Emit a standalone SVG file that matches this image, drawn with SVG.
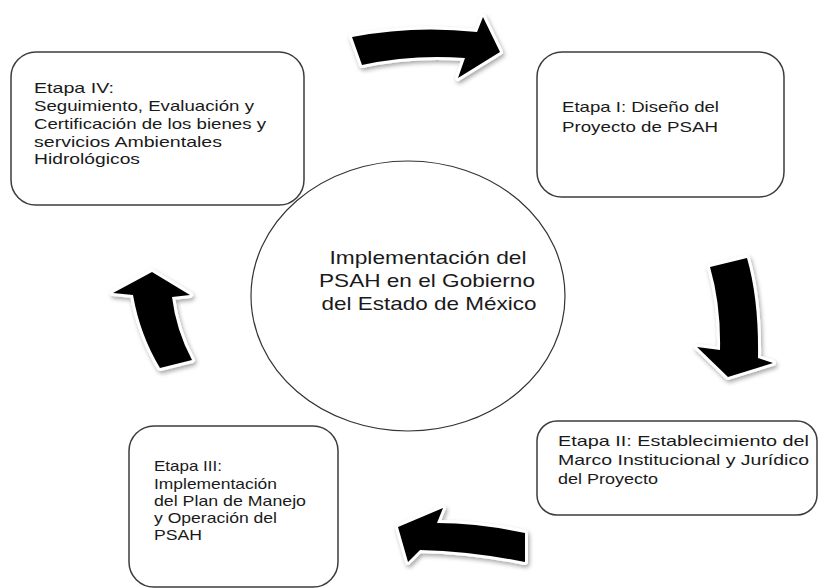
<svg xmlns="http://www.w3.org/2000/svg" width="819" height="588" viewBox="0 0 819 588">
<defs>
<filter id="sh" x="-20%" y="-20%" width="150%" height="150%">
<feDropShadow dx="1.5" dy="2.5" stdDeviation="2" flood-color="#000" flood-opacity="0.35"/>
</filter>
<style>
.box{fill:#fff;stroke:#3c3c3c;stroke-width:1.5}
.ell{fill:#fff;stroke:#333;stroke-width:1.2}
.t{font-family:"Liberation Sans",Arial,sans-serif;font-size:15px;fill:#1a1a1a}
.c{font-family:"Liberation Sans",Arial,sans-serif;font-size:19px;fill:#1a1a1a;text-anchor:middle}
.arr{fill:#000;stroke:#fff;stroke-width:6;stroke-linejoin:round;paint-order:stroke;filter:url(#sh)}
</style>
</defs>
<rect width="819" height="588" fill="#fff"/>

<g id="center">
<ellipse class="ell" cx="408" cy="296" rx="157" ry="135"/>
<text class="c" x="428" y="264" textLength="197" lengthAdjust="spacingAndGlyphs">Implementación del</text>
<text class="c" x="427" y="287" textLength="216" lengthAdjust="spacingAndGlyphs">PSAH en el Gobierno</text>
<text class="c" x="429" y="310" textLength="215" lengthAdjust="spacingAndGlyphs">del Estado de México</text>
</g>

<g id="etapa4">
<rect class="box" x="11" y="52" width="293" height="153" rx="25"/>
<text class="t" x="34" y="93" textLength="80" lengthAdjust="spacingAndGlyphs">Etapa IV:</text>
<text class="t" x="34" y="111" textLength="220" lengthAdjust="spacingAndGlyphs">Seguimiento, Evaluación y</text>
<text class="t" x="34" y="129" textLength="232" lengthAdjust="spacingAndGlyphs">Certificación de los bienes y</text>
<text class="t" x="34" y="147" textLength="188" lengthAdjust="spacingAndGlyphs">servicios Ambientales</text>
<text class="t" x="34" y="164" textLength="106" lengthAdjust="spacingAndGlyphs">Hidrológicos</text>
</g>

<g id="etapa1">
<rect class="box" x="537" y="52" width="247" height="145" rx="25"/>
<text class="t" x="562" y="112" textLength="157" lengthAdjust="spacingAndGlyphs">Etapa I: Diseño del</text>
<text class="t" x="562" y="132" textLength="156" lengthAdjust="spacingAndGlyphs">Proyecto de PSAH</text>
</g>

<g id="etapa2">
<rect class="box" x="537" y="421" width="280" height="94" rx="20"/>
<text class="t" x="558" y="446" textLength="251" lengthAdjust="spacingAndGlyphs">Etapa II: Establecimiento del</text>
<text class="t" x="558" y="465" textLength="251" lengthAdjust="spacingAndGlyphs">Marco Institucional y Jurídico</text>
<text class="t" x="558" y="484" textLength="100" lengthAdjust="spacingAndGlyphs">del Proyecto</text>
</g>

<g id="etapa3">
<rect class="box" x="129" y="426" width="209" height="161" rx="25"/>
<text class="t" x="154" y="471" textLength="68" lengthAdjust="spacingAndGlyphs">Etapa III:</text>
<text class="t" x="154" y="488.5" textLength="123" lengthAdjust="spacingAndGlyphs">Implementación</text>
<text class="t" x="154" y="506" textLength="152" lengthAdjust="spacingAndGlyphs">del Plan de Manejo</text>
<text class="t" x="154" y="523" textLength="123" lengthAdjust="spacingAndGlyphs">y Operación del</text>
<text class="t" x="154" y="540" textLength="48" lengthAdjust="spacingAndGlyphs">PSAH</text>
</g>

<g id="connectors">
<path class="arr" d="M352 37 Q414 25 477 32 L483 17 L500 52 L458 78 L465 58 Q412 54 362 65 Z"/>
<path class="arr" d="M710 267 L747 258 Q759 300 758 358 L773 363 L728 377 L697 347 L720 350 Q721 305 710 267 Z"/>
<path class="arr" d="M525 533 Q478 523 437 523 L443 508 L398 527 L408 562 L420 550 Q470 551 525 562 Z"/>
<path class="arr" d="M152 272 L190 295 L172 297 Q176 330 192 360 L160 368 Q140 335 133 295 L113 293 Z"/>
</g>
</svg>
